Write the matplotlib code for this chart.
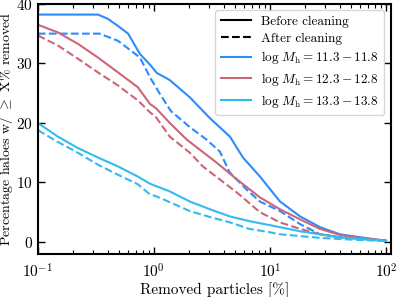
import numpy as np
import matplotlib
matplotlib.use('Agg')
import matplotlib.pyplot as plt

plt.rcParams.update({
    'font.family': 'serif',
    'font.serif': ['cmr10', 'DejaVu Serif'],
    'mathtext.fontset': 'cm',
    'axes.formatter.use_mathtext': True,
    'axes.unicode_minus': False,
    'font.size': 11,
})

C_LOW = '#2a8cff'
C_MID = '#cc6677'
C_HIGH = '#33bbee'

# ---- values ----
# log M_h = 11.3 - 11.8
x_low_b = [0.1, 0.33, 0.40, 0.49, 0.60, 0.757, 0.924, 1.06, 1.37, 2.04, 3.04,
           4.52, 5.85, 8.2, 12.2, 18.2, 27, 40, 59.7, 100]
low_before = [38.2, 38.2, 37.5, 36.3, 35.0, 31.6, 29.8, 28.4, 27.2, 24.3, 20.8,
              17.7, 14.2, 11.0, 6.8, 4.3, 2.5, 1.3, 0.8, 0.2]
x_low_a = [0.1, 0.34, 0.49, 0.757, 0.924, 1.1, 1.4, 2.04, 2.8, 3.7, 4.5,
           6.3, 8.2, 12.2, 18.2, 27, 40, 100]
low_after = [35.0, 35.0, 33.8, 31.0, 27.7, 25.2, 22.0, 19.3, 17.3, 15.2, 11.7,
             8.8, 6.8, 5.2, 3.0, 1.3, 0.8, 0.2]

# log M_h = 12.3 - 12.8
x_mid_b = [0.1, 0.149, 0.221, 0.329, 0.49, 0.727, 0.924, 1.04, 1.37, 1.92,
           3.49, 5.2, 8.2, 12.2, 18.2, 27, 40, 59.7, 100]
mid_before = [36.5, 35.2, 33.3, 31.0, 28.5, 26.0, 23.2, 22.5, 20.0, 17.2,
              13.3, 10.5, 7.5, 5.5, 3.8, 2.2, 1.2, 0.7, 0.25]
x_mid_a = [0.1, 0.149, 0.221, 0.329, 0.49, 0.727, 0.924, 1.04, 1.37, 2.04,
           2.64, 5.2, 8.2, 12.2, 18.2, 27, 40, 59.7, 100]
mid_after = [34.7, 33.0, 30.8, 28.5, 26.3, 23.8, 21.8, 21.0, 17.7, 15.0,
             12.7, 8.3, 5.0, 3.3, 2.2, 1.3, 0.8, 0.5, 0.2]

# log M_h = 13.3 - 13.8
x_high = [0.1, 0.149, 0.221, 0.329, 0.49, 0.727, 0.924, 1.04, 1.37, 2.04,
          3.04, 4.52, 6.66, 9.6, 12.2, 18.2, 27, 40, 100]
high_before = [20.0, 17.7, 15.8, 14.2, 12.7, 11.0, 9.8, 9.4, 8.5, 6.8,
               5.5, 4.3, 3.5, 2.9, 2.5, 1.8, 1.3, 0.8, 0.2]
high_after = [18.8, 16.8, 15.0, 13.0, 11.3, 9.7, 8.0, 7.7, 6.7, 5.2,
              4.2, 3.3, 2.2, 1.7, 1.3, 1.0, 0.7, 0.5, 0.15]

labels = [r'$\log\,M_{\rm h} = 11.3 - 11.8$',
          r'$\log\,M_{\rm h} = 12.3 - 12.8$',
          r'$\log\,M_{\rm h} = 13.3 - 13.8$']

fig = plt.figure(figsize=(3.98, 2.97), dpi=100)
ax = fig.add_axes([0.095, 0.145, 0.887, 0.842])

lw = 1.5
ax.plot(x_low_b, low_before, color=C_LOW, lw=lw)
ax.plot(x_low_a, low_after, color=C_LOW, lw=lw, ls='--')
ax.plot(x_mid_b, mid_before, color=C_MID, lw=lw)
ax.plot(x_mid_a, mid_after, color=C_MID, lw=lw, ls='--')
ax.plot(x_high, high_before, color=C_HIGH, lw=lw)
ax.plot(x_high, high_after, color=C_HIGH, lw=lw, ls='--')

# legend proxies
h = [ax.plot([], [], color='k', lw=lw, label='Before cleaning')[0],
     ax.plot([], [], color='k', lw=lw, ls='--', label='After cleaning')[0]]
for c, lab in zip([C_LOW, C_MID, C_HIGH], labels):
    h.append(ax.plot([], [], color=c, lw=lw, label=lab)[0])
ax.legend(handles=h, loc='upper right', fontsize=9.5, frameon=True,
          edgecolor='#cccccc', handlelength=2.3, borderaxespad=0.5,
          labelspacing=0.35)

ax.set_xscale('log')
ax.set_xlim(0.1, 110)
ax.set_ylim(-2, 40)
ax.set_yticks([0, 10, 20, 30, 40])
ax.set_xlabel('Removed particles [%]', fontsize=11, labelpad=1)
ax.set_ylabel(r'Percentage haloes w/ $\geq$ X% removed', fontsize=10)
ax.yaxis.set_label_coords(-0.066, 0.5)
ax.tick_params(which='both', direction='in', top=True, right=True)
ax.tick_params(which='major', length=5, width=1)
ax.tick_params(which='minor', length=3, width=0.8)
ax.tick_params(axis='x', which='major', pad=6)
for sp in ax.spines.values():
    sp.set_linewidth(1.5)

fig.savefig('out.png', dpi=100)
